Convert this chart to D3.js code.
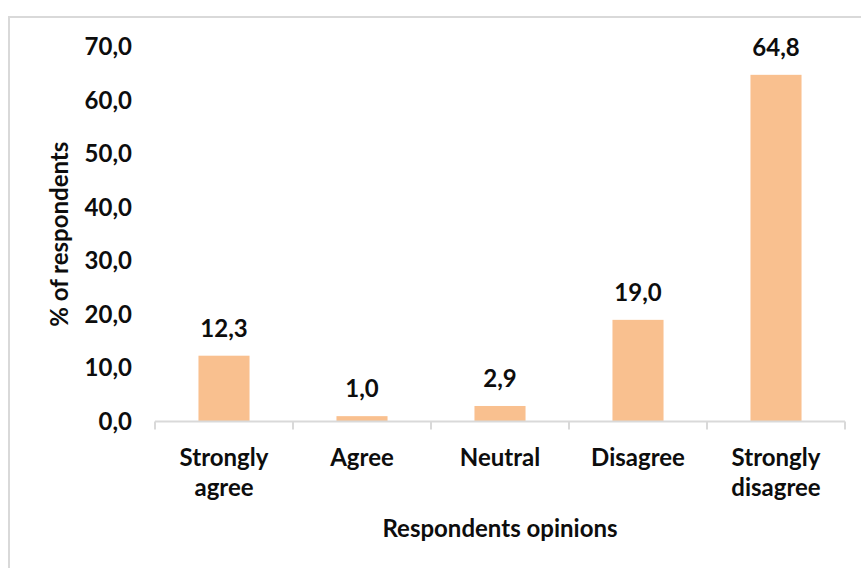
<!DOCTYPE html>
<html>
<head>
<meta charset="utf-8">
<script src="https://cdn.jsdelivr.net/npm/d3@7/dist/d3.min.js"></script>
<style>
  html, body { margin: 0; padding: 0; background: #fff; }
  svg { display: block; }
  text { font-family: Lato, "Open Sans", sans-serif; font-weight: 700; fill: #0d0d0d; }
</style>
</head>
<body>
<svg id="chart" width="861" height="568"></svg>
<script>
// Survey responses (% of respondents)
const categories = [["Strongly", "agree"], ["Agree"], ["Neutral"], ["Disagree"], ["Strongly", "disagree"]];
const values = [12.3, 1.0, 2.9, 19.0, 64.8];
const yTicks = [0, 10, 20, 30, 40, 50, 60, 70];

const svg = d3.select("#chart");
const W = 861, H = 568;
const margin = { left: 155, right: 16, top: 47, bottom: 146.5 };
const plotW = W - margin.left - margin.right;
const plotH = H - margin.top - margin.bottom;
const fontSize = "24px";

const fmt = v => d3.format(".1f")(v).replace(".", ",");

// chart frame (left and top edges are visible)
svg.append("rect")
  .attr("x", 9).attr("y", 17)
  .attr("width", W + 20).attr("height", H + 20)
  .attr("fill", "none").attr("stroke", "#d9d9d9").attr("stroke-width", 2);

const g = svg.append("g").attr("transform", `translate(${margin.left},${margin.top})`);

const keys = categories.map(c => c.join(" "));
const x = d3.scaleBand().domain(keys).range([0, plotW]).paddingInner(0.63).paddingOuter(0.315);
const xb = d3.scaleBand().domain(keys).range([0, plotW]);
const y = d3.scaleLinear().domain([0, 70]).range([plotH, 0]);

// bars
g.selectAll("rect.bar").data(values).join("rect")
  .attr("class", "bar")
  .attr("x", (d, i) => x(keys[i]))
  .attr("width", x.bandwidth())
  .attr("y", d => y(d))
  .attr("height", d => y(0) - y(d))
  .attr("fill", "#f9c08f");

// value labels
g.selectAll("text.val").data(values).join("text")
  .attr("class", "val")
  .attr("x", (d, i) => x(keys[i]) + x.bandwidth() / 2)
  .attr("y", d => y(d) - 19)
  .attr("text-anchor", "middle")
  .style("font-size", fontSize)
  .text(fmt);

// y axis labels (no line)
const yAxis = d3.axisLeft(y).tickValues(yTicks).tickSize(0).tickPadding(23).tickFormat(fmt);
const ya = g.append("g").call(yAxis);
ya.select(".domain").remove();
ya.selectAll("text").style("font-size", fontSize).attr("fill", "#0d0d0d");

// x axis line with tick marks at category boundaries
const xa = g.append("g").attr("transform", `translate(0,${plotH})`);
xa.append("line").attr("x1", 0).attr("x2", plotW).attr("y1", 0).attr("y2", 0)
  .attr("stroke", "#d9d9d9").attr("stroke-width", 2);
const bounds = keys.map(k => xb(k)).concat([plotW]);
xa.selectAll("line.tk").data(bounds).join("line")
  .attr("class", "tk")
  .attr("x1", d => d).attr("x2", d => d)
  .attr("y1", 0).attr("y2", 8)
  .attr("stroke", "#d9d9d9").attr("stroke-width", 2);

// category labels
categories.forEach((lines, i) => {
  const cx = xb(keys[i]) + xb.bandwidth() / 2;
  const t = xa.append("text")
    .attr("x", cx)
    .attr("y", 44)
    .attr("text-anchor", "middle")
    .style("font-size", fontSize);
  lines.forEach((ln, j) => {
    t.append("tspan").attr("x", cx).attr("dy", j === 0 ? 0 : 30).text(ln);
  });
});

// axis titles
svg.append("text")
  .attr("x", margin.left + plotW / 2)
  .attr("y", 537)
  .attr("text-anchor", "middle")
  .style("font-size", fontSize)
  .text("Respondents opinions");

svg.append("text")
  .attr("transform", `translate(68,${margin.top + plotH / 2}) rotate(-90)`)
  .attr("text-anchor", "middle")
  .style("font-size", fontSize)
  .text("% of respondents");
</script>
</body>
</html>
